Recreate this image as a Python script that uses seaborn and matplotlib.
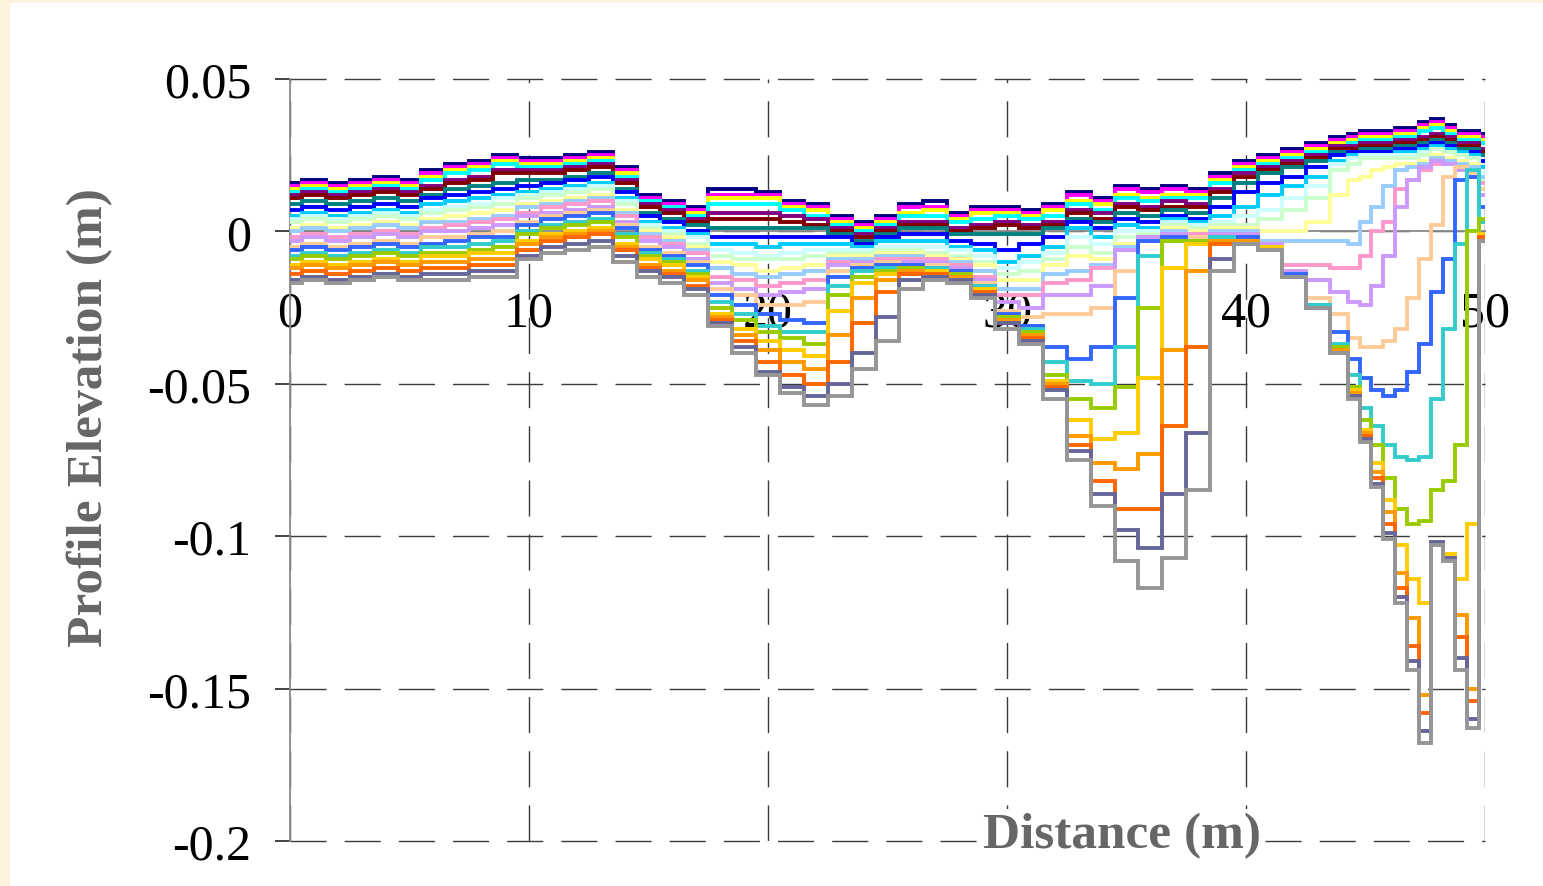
import numpy as np
import pandas as pd
import matplotlib
matplotlib.use("Agg")
import matplotlib.pyplot as plt
from matplotlib.patches import Rectangle
import seaborn as sns

# Station positions along the transect (m)
distance_m = [0, 1, 2, 3, 4, 5, 6, 7, 8, 9,
              10, 11, 12, 13, 14, 15, 16, 17, 18, 19,
              20, 21, 22, 23, 24, 25, 26, 27, 28, 29,
              30, 31, 32, 33, 34, 35, 36, 37, 38, 39,
              40, 41, 42, 43, 44,
              44.5, 45, 45.5, 46, 46.5, 47, 47.5, 48, 48.5, 49, 49.5, 50]

# Profile elevations for each successive survey (mm)
survey_01 = [16, 17, 16, 17, 18, 17, 20, 22, 23, 25, 24, 24, 25, 26, 21, 12, 10, 8, 14, 14,
             13, 10, 9, 5, 3, 5, 9, 10, 6, 8, 8, 7, 9, 13, 11, 15, 14, 15, 14, 19,
             23, 25, 27, 29, 31, 32, 33, 33, 33, 34, 34, 36, 37, 35, 33, 33, 32]
survey_02 = [15, 16, 15, 16, 17, 16, 19, 21, 22, 24, 23, 23, 24, 25, 20, 11, 9, 7, 12, 12,
             12, 9, 8, 4, 2, 4, 8, 8, 5, 7, 7, 6, 8, 12, 10, 14, 13, 14, 13, 18,
             22, 24, 26, 28, 30, 31, 32, 32, 32, 33, 33, 35, 36, 34, 32, 32, 31]
survey_03 = [14, 15, 14, 15, 16, 15, 18, 20, 21, 23, 22, 22, 23, 24, 19, 10, 8, 6, 11, 11,
             11, 8, 7, 3, 1, 3, 6, 7, 4, 6, 6, 5, 7, 10, 9, 12, 11, 12, 12, 17,
             21, 23, 25, 27, 29, 30, 31, 31, 31, 32, 32, 34, 35, 33, 31, 31, 30]
survey_04 = [13, 14, 13, 14, 15, 14, 17, 19, 20, 22, 21, 21, 22, 23, 18, 10, 8, 5, 9, 9,
             9, 7, 5, 2, 0, 2, 5, 5, 3, 4, 5, 4, 5, 9, 7, 11, 10, 11, 11, 16,
             20, 22, 24, 26, 28, 29, 30, 30, 30, 31, 31, 33, 34, 32, 30, 30, 29]
survey_05 = [12, 13, 12, 13, 14, 13, 15, 17, 18, 20, 20, 20, 21, 22, 17, 9, 7, 4, 6, 6,
             6, 5, 4, 1, -1, 1, 3, 3, 1, 2, 3, 2, 3, 7, 6, 9, 8, 10, 9, 14,
             19, 21, 23, 25, 28, 28, 29, 29, 29, 30, 30, 31, 32, 31, 29, 29, 27]
survey_06 = [11, 12, 11, 12, 13, 12, 14, 16, 17, 19, 19, 19, 20, 21, 16, 8, 6, 3, 4, 4,
             4, 3, 2, 0, -2, 0, 2, 2, 0, 1, 2, 1, 2, 6, 4, 8, 7, 8, 8, 13,
             18, 20, 22, 24, 27, 27, 28, 28, 28, 29, 29, 30, 31, 30, 28, 28, 26]
survey_07 = [9, 10, 9, 10, 11, 10, 12, 14, 15, 16, 17, 17, 18, 19, 14, 6, 4, 2, 1, 1,
             1, 1, 1, -1, -3, -1, 1, 1, -1, -1, -1, -1, 1, 4, 3, 6, 5, 7, 6, 11,
             16, 19, 21, 23, 26, 26, 27, 27, 27, 28, 28, 29, 30, 29, 27, 27, 25]
survey_08 = [7, 8, 7, 8, 9, 8, 11, 12, 13, 14, 15, 16, 17, 18, 13, 5, 3, 0, -2, -2,
             -2, -2, -2, -2, -4, -2, -1, -1, -3, -4, -6, -4, -2, 3, 1, 4, 3, 5, 4, 8,
             13, 16, 18, 21, 25, 26, 26, 26, 26, 27, 27, 28, 29, 28, 26, 26, 23]
survey_09 = [5, 6, 5, 6, 7, 6, 9, 10, 11, 12, 13, 14, 15, 16, 11, 3, 1, -1, -4, -4,
             -5, -4, -4, -4, -5, -3, -3, -3, -5, -6, -10, -8, -5, 1, -2, 2, 1, 4, 3, 5,
             8, 12, 15, 18, 23, 25, 25, 25, 25, 26, 26, 27, 28, 27, 26, 25, 21]
survey_10 = [4, 5, 4, 5, 6, 5, 7, 8, 9, 11, 12, 13, 14, 15, 10, 2, 0, -2, -6, -7,
             -8, -7, -6, -6, -6, -5, -5, -5, -6, -8, -12, -10, -7, -2, -4, 0, 0, 3, 2, 3,
             5, 7, 11, 15, 22, 24, 25, 25, 25, 25, 25, 26, 27, 26, 25, 24, 19]
survey_11 = [3, 4, 3, 4, 5, 4, 6, 7, 8, 9, 11, 12, 13, 14, 9, 1, -1, -4, -8, -9,
             -9, -9, -8, -7, -7, -6, -6, -7, -8, -10, -14, -13, -9, -5, -7, -2, -1, 2, 1, 2,
             2, 4, 7, 11, 20, 22, 24, 24, 24, 24, 24, 25, 27, 26, 25, 24, 17]
survey_12 = [1, 2, 1, 2, 3, 2, 4, 5, 6, 7, 9, 10, 11, 12, 7, 0, -2, -5, -10, -11,
             -13, -12, -11, -8, -8, -7, -7, -8, -9, -11, -16, -16, -11, -8, -9, -4, -2, 1, 0, 1,
             1, 0, 0, 3, 12, 17, 18, 20, 21, 22, 22, 23, 25, 24, 23, 22, 16]
survey_13 = [0, 1, 0, 1, 2, 1, 3, 3, 4, 5, 8, 9, 10, 11, 6, -1, -3, -6, -12, -14,
             -15, -14, -13, -9, -9, -8, -8, -9, -10, -13, -19, -19, -14, -13, -11, -5, -2, 0, -1, 0,
             0, -3, -3, -3, -3, -4, 3, 8, 15, 20, 21, 22, 24, 23, 22, 21, 18]
survey_14 = [-2, -1, -2, -1, 0, -1, 1, 2, 3, 4, 6, 8, 9, 10, 5, -2, -4, -7, -15, -16,
             -18, -17, -16, -10, -10, -9, -9, -9, -11, -15, -21, -21, -17, -16, -12, -6, -2, -1, -1, -1,
             -1, -4, -11, -11, -12, -12, -8, 0, 3, 14, 17, 20, 22, 22, 21, 20, 16]
survey_15 = [-3, -2, -3, -2, -1, -2, 0, 0, 1, 2, 5, 6, 7, 8, 3, -3, -5, -9, -17, -19,
             -21, -20, -19, -11, -10, -10, -10, -10, -12, -16, -23, -25, -21, -21, -18, -6, -2, -1, -2, -1,
             -1, -4, -13, -16, -20, -23, -24, -18, -8, 8, 17, 21, 23, 22, 20, 18, 12]
survey_16 = [-5, -4, -5, -4, -3, -4, -2, -2, -1, 0, 3, 5, 6, 7, 2, -5, -7, -10, -19, -21,
             -24, -24, -23, -13, -11, -10, -11, -11, -13, -17, -26, -28, -27, -27, -25, -13, -3, -2, -2, -2,
             -2, -5, -14, -22, -27, -35, -38, -38, -36, -32, -22, -9, 2, 18, 21, 19, 14]
survey_17 = [-6, -5, -6, -5, -4, -5, -4, -3, -2, -2, 2, 4, 5, 6, 1, -6, -8, -11, -21, -24,
             -27, -29, -30, -15, -12, -11, -11, -12, -13, -18, -27, -31, -38, -42, -38, -22, -3, -2, -3, -2,
             -2, -5, -14, -24, -33, -42, -48, -52, -54, -52, -46, -37, -20, -9, 17, 18, 8]
survey_18 = [-8, -7, -8, -7, -6, -7, -5, -5, -4, -3, 0, 2, 3, 4, -1, -7, -9, -13, -23, -27,
             -31, -33, -33, -18, -13, -12, -12, -12, -14, -18, -28, -32, -43, -49, -50, -38, -8, -3, -3, -2,
             -3, -5, -15, -24, -37, -47, -58, -64, -70, -74, -75, -74, -55, -32, -4, 20, 3]
survey_19 = [-9, -8, -9, -8, -7, -8, -7, -7, -6, -5, -1, 1, 2, 3, -2, -8, -10, -14, -25, -29,
             -33, -35, -37, -21, -15, -13, -12, -13, -14, -19, -28, -33, -47, -55, -58, -51, -25, -3, -3, -3,
             -3, -5, -15, -25, -38, -51, -62, -70, -81, -91, -96, -95, -85, -82, -70, 0, 4]
survey_20 = [-11, -10, -11, -10, -9, -10, -8, -8, -7, -7, -3, -1, 0, 1, -4, -9, -11, -15, -27, -32,
             -36, -39, -41, -26, -17, -14, -13, -13, -15, -19, -29, -34, -49, -62, -68, -66, -48, -12, -4, -3,
             -3, -5, -15, -25, -39, -52, -65, -76, -88, -103, -114, -122, -103, -106, -114, -96, -1]
survey_21 = [-12, -11, -12, -11, -10, -11, -10, -10, -9, -9, -4, -2, -1, 0, -5, -11, -13, -16, -28, -34,
             -39, -43, -45, -34, -22, -16, -13, -14, -15, -20, -29, -34, -50, -67, -76, -78, -73, -39, -13, -3,
             -3, -6, -15, -25, -39, -53, -66, -79, -92, -112, -127, -152, -103, -107, -126, -150, -2]
survey_22 = [-14, -13, -14, -13, -12, -13, -12, -12, -11, -11, -6, -3, -2, -1, -6, -12, -14, -18, -29, -36,
             -43, -47, -50, -43, -30, -20, -14, -14, -16, -20, -30, -35, -51, -70, -82, -91, -91, -64, -38, -4,
             -4, -6, -15, -25, -40, -54, -67, -81, -96, -117, -136, -158, -103, -107, -133, -154, -2]
survey_23 = [-16, -15, -16, -15, -14, -15, -14, -14, -13, -13, -8, -5, -4, -3, -8, -13, -15, -19, -30, -38,
             -46, -51, -54, -50, -40, -28, -16, -15, -16, -21, -30, -36, -52, -72, -86, -98, -104, -86, -66, -9,
             -4, -6, -15, -25, -40, -54, -68, -83, -99, -120, -141, -164, -102, -107, -140, -160, -3]
survey_24 = [-17, -16, -17, -16, -15, -16, -16, -16, -15, -15, -9, -7, -6, -5, -10, -15, -17, -21, -31, -40,
             -47, -53, -57, -54, -45, -36, -19, -16, -17, -22, -32, -37, -55, -75, -90, -108, -117, -107, -85, -13,
             -4, -6, -15, -25, -40, -55, -69, -84, -101, -122, -144, -168, -103, -108, -144, -163, -3]

surveys = [survey_01, survey_02, survey_03, survey_04, survey_05, survey_06,
           survey_07, survey_08, survey_09, survey_10, survey_11, survey_12,
           survey_13, survey_14, survey_15, survey_16, survey_17, survey_18,
           survey_19, survey_20, survey_21, survey_22, survey_23, survey_24]

line_colors = ["#000080", "#FF00FF", "#FFFF00", "#00FFFF", "#800080", "#800000",
               "#008080", "#0000FF", "#00CCFF", "#CCFFFF", "#CCFFCC", "#FFFF99",
               "#99CCFF", "#FF99CC", "#CC99FF", "#FFCC99", "#3366FF", "#33CCCC",
               "#99CC00", "#FFCC00", "#FF9900", "#FF6600", "#666699", "#969696"]

x_ticks = [0, 10, 20, 30, 40, 50]
y_ticks = [0.05, 0, -0.05, -0.1, -0.15, -0.2]
y_tick_labels = ["0.05", "0", "-0.05", "-0.1", "-0.15", "-0.2"]

# Long-form table for seaborn (elevations converted from mm to m)
names = [f"S{i + 1:02d}" for i in range(len(surveys))]
frames = []
for name, vals in zip(names, surveys):
    frames.append(pd.DataFrame({"distance": distance_m,
                                "elevation": np.asarray(vals, dtype=float) / 1000.0,
                                "survey": name}))
df = pd.concat(frames, ignore_index=True)

sns.set_theme(style="white")
plt.rcParams["font.family"] = ["Liberation Serif", "DejaVu Serif"]

W, H = 1543, 887
fig = plt.figure(figsize=(W / 100, H / 100), dpi=100)
fig.patch.set_facecolor("#FCF2DE")
fig.add_artist(Rectangle((10 / W, 0), 1 - 10 / W, 1 - 4 / H,
                         transform=fig.transFigure, facecolor="white",
                         edgecolor="none", zorder=0))

ax = fig.add_axes([290 / W, 1 - 842 / H, 1195 / W, 762 / H])
ax.set_facecolor("none")

sns.lineplot(data=df, x="distance", y="elevation", hue="survey",
             hue_order=names, palette=line_colors, estimator=None,
             sort=False, legend=False, drawstyle="steps-mid",
             linewidth=2.8, ax=ax, zorder=3)
for ln in ax.get_lines():
    ln.set_linewidth(2.8)
    ln.set_solid_joinstyle("miter")

ax.set_xlim(0, 50)
ax.set_ylim(-0.2, 0.05)
ax.set_xticks(x_ticks)
ax.set_xticklabels([str(v) for v in x_ticks])
ax.set_yticks(y_ticks)
ax.set_yticklabels(y_tick_labels)
ax.set_xlabel("")
ax.set_ylabel("")

# dashed grid
ax.grid(True, color="#3c3c3c", linewidth=1.0, linestyle=(0, (26, 13)))
for gl in ax.get_xgridlines() + ax.get_ygridlines():
    gl.set_clip_on(False)
    gl.set_zorder(1)

for side in ("top", "right"):
    ax.spines[side].set_visible(False)
ax.spines["bottom"].set_position(("data", 0))
ax.spines["bottom"].set_color("#8a8a8a")
ax.spines["bottom"].set_linewidth(1.3)
ax.spines["bottom"].set_zorder(2)
ax.spines["left"].set_color("#8a8a8a")
ax.spines["left"].set_linewidth(1.3)

ax.tick_params(axis="x", length=0, labelsize=36, pad=42, colors="black")
ax.tick_params(axis="y", direction="out", length=11, width=1.2, color="#222222",
               labelsize=36, pad=17, labelcolor="black", left=True)

fig.text(90 / W, 1 - 418 / H, "Profile Elevation (m)", rotation=90,
         ha="center", va="center", fontsize=37, fontweight="bold", color="#666666")
fig.text(1122 / W, 1 - 836 / H, "Distance (m)", ha="center", va="center",
         fontsize=37, fontweight="bold", color="#666666",
         bbox=dict(facecolor="white", edgecolor="none", pad=2), zorder=6)

fig.savefig("out.png", dpi=100, facecolor=fig.get_facecolor())
